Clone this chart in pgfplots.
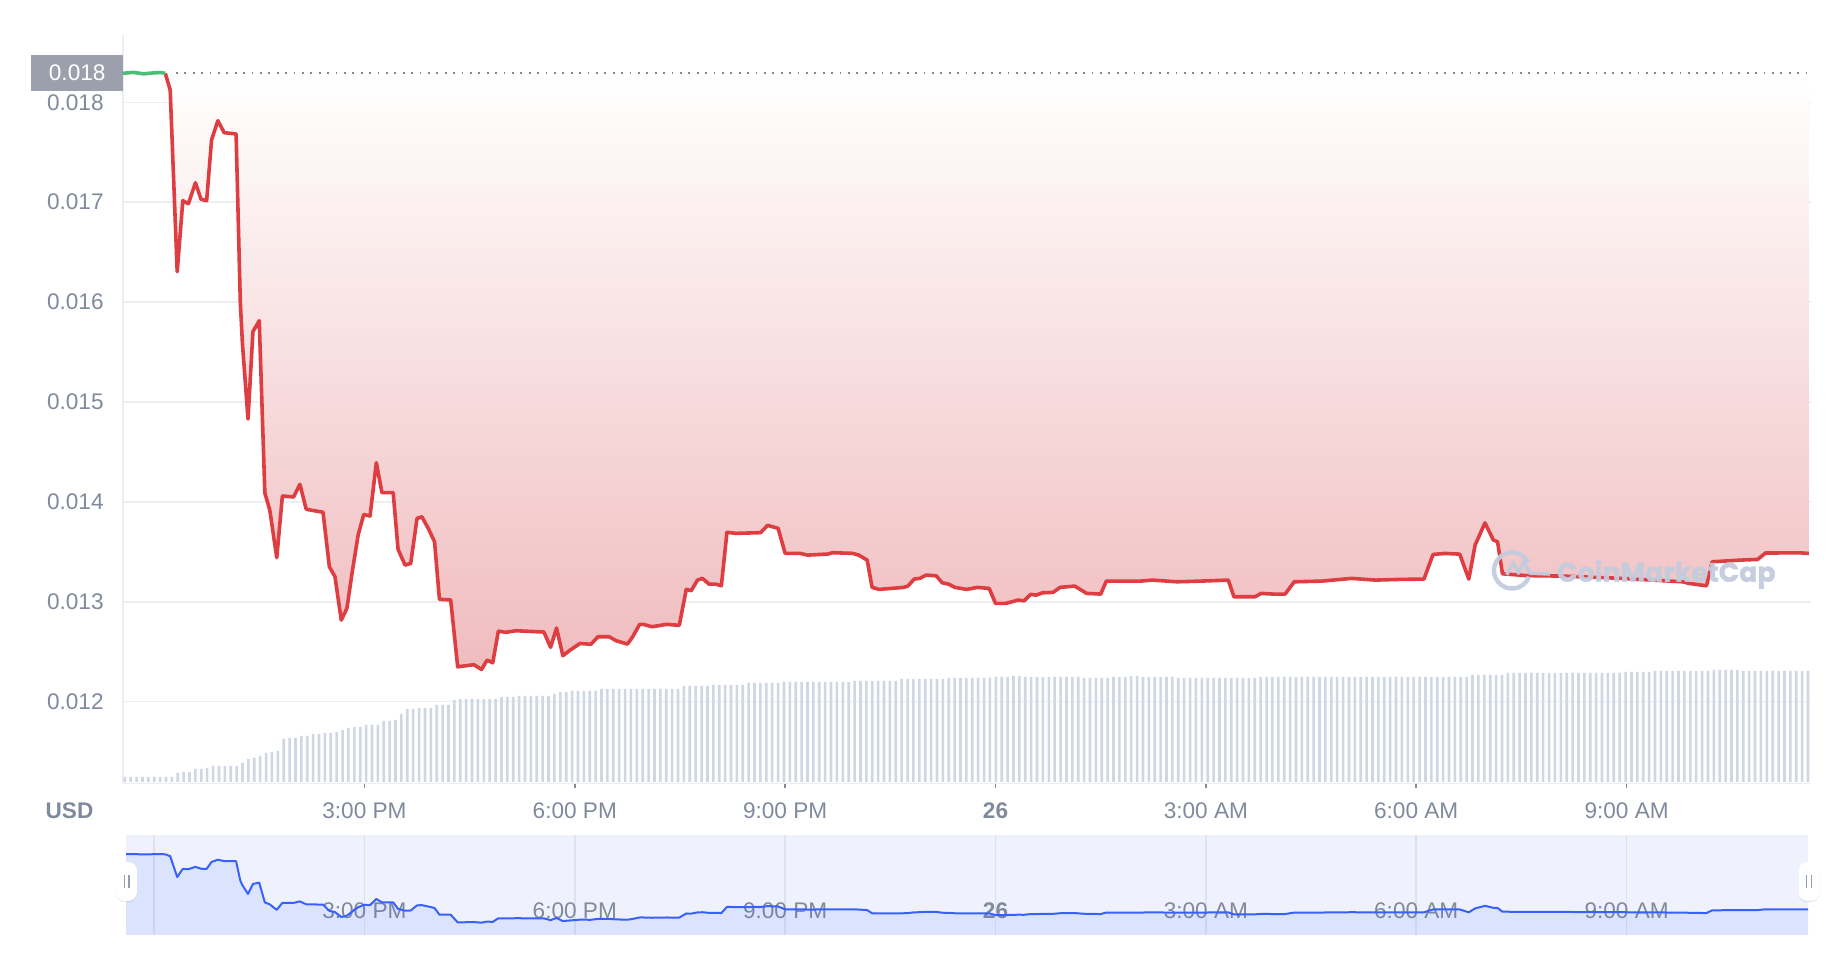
\documentclass[border=0pt]{standalone}
\usepackage{pgfplots}
\pgfplotsset{compat=1.18}
\usepackage{pgfplotstable}
\usetikzlibrary{shadows}
\usepackage{fontspec}
\setmainfont{Liberation Sans}
\newfontfamily\cmcfont{Poppins}[FakeBold=1.5]
\definecolor{pricered}{RGB}{222,62,66}
\definecolor{pricegreen}{RGB}{76,190,120}
\definecolor{gridcol}{RGB}{236,238,243}
\definecolor{labelcol}{RGB}{128,138,157}
\definecolor{volcol}{RGB}{207,214,228}
\definecolor{fillbot}{RGB}{240,188,190}
\definecolor{boxcol}{RGB}{155,160,172}
\definecolor{navbg}{RGB}{239,242,253}
\definecolor{navline}{RGB}{56,97,251}
\definecolor{navgrid}{RGB}{221,226,243}
\definecolor{wmcol}{RGB}{196,204,222}
\definecolor{dotcol}{RGB}{130,134,146}
\definecolor{handlecol}{RGB}{150,156,172}

\pgfplotstableread{
h p
11.557 0.018290
11.70 0.018300
11.85 0.018285
12.00 0.018295
12.10 0.018298
12.16 0.018290
12.23 0.018123
12.33 0.016304
12.41 0.017015
12.49 0.016985
12.59 0.017195
12.67 0.017029
12.75 0.017015
12.82 0.017623
12.91 0.017816
13.00 0.017696
13.17 0.017683
13.23 0.016000
13.26 0.015588
13.34 0.014830
13.41 0.015704
13.50 0.015814
13.58 0.014090
13.65 0.013919
13.75 0.013441
13.83 0.014059
13.99 0.014049
14.08 0.014176
14.17 0.013926
14.41 0.013896
14.50 0.013351
14.58 0.013251
14.67 0.012817
14.75 0.012934
14.83 0.013317
14.91 0.013667
14.99 0.013874
15.08 0.013858
15.17 0.014392
15.25 0.014092
15.41 0.014092
15.48 0.013525
15.58 0.013367
15.66 0.013384
15.75 0.013834
15.82 0.013851
15.91 0.013735
16.00 0.013601
16.07 0.013024
16.23 0.013019
16.33 0.012349
16.56 0.012370
16.67 0.012323
16.75 0.012416
16.83 0.012389
16.91 0.012707
17.015 0.012694
17.16 0.012710
17.56 0.012697
17.655 0.012544
17.74 0.012737
17.83 0.012460
17.935 0.012517
18.075 0.012583
18.23 0.012574
18.33 0.012650
18.49 0.012650
18.59 0.012610
18.75 0.012577
18.82 0.012643
18.925 0.012774
18.98 0.012774
19.10 0.012750
19.31 0.012774
19.49 0.012764
19.59 0.013124
19.66 0.013111
19.75 0.013217
19.82 0.013234
19.915 0.013177
20.01 0.013177
20.09 0.013160
20.17 0.013695
20.30 0.013685
20.65 0.013692
20.75 0.013765
20.90 0.013735
21.00 0.013485
21.21 0.013485
21.32 0.013467
21.61 0.013478
21.67 0.013491
21.96 0.013485
22.05 0.013467
22.17 0.013417
22.24 0.013144
22.34 0.013124
22.69 0.013144
22.75 0.013157
22.84 0.013227
22.92 0.013234
23.01 0.013267
23.155 0.013260
23.24 0.013190
23.33 0.013177
23.42 0.013144
23.59 0.013124
23.74 0.013144
23.91 0.013134
24.00 0.012984
24.15 0.012984
24.32 0.013017
24.41 0.013010
24.50 0.013074
24.58 0.013067
24.67 0.013090
24.82 0.013094
24.92 0.013144
25.13 0.013157
25.30 0.013084
25.50 0.013077
25.58 0.013207
26.07 0.013207
26.24 0.013217
26.59 0.013200
26.93 0.013207
27.32 0.013217
27.40 0.013050
27.70 0.013050
27.79 0.013084
27.96 0.013077
28.13 0.013077
28.26 0.013200
28.65 0.013207
29.08 0.013234
29.42 0.013217
29.765 0.013224
30.11 0.013227
30.24 0.013474
30.41 0.013484
30.62 0.013477
30.75 0.013227
30.84 0.013568
30.98 0.013790
31.10 0.013618
31.16 0.013601
31.23 0.013280
31.57 0.013262
32.08 0.013257
32.94 0.013234
33.80 0.013200
33.89 0.013184
34.14 0.013160
34.22 0.013400
34.62 0.013417
34.87 0.013424
34.98 0.013488
35.47 0.013490
35.60 0.013484
}\price

\pgfplotsset{
  every tick label/.append style={font=\fontsize{11.3}{13}\selectfont, text=labelcol},
  mainbox/.style={at={(61.5pt,86.25pt)}, anchor=south west, scale only axis,
    width=844pt, height=374.25pt},
}

\begin{document}
\begin{tikzpicture}
\useasboundingbox[fill=white] (0,0) rectangle (922pt,478pt);

% ---- price axis: grid, ticks, labels
\begin{axis}[mainbox,
  xmin=11.557, xmax=35.63, ymin=0.011181, ymax=0.018674,
  axis x line*=bottom, axis y line*=left,
  axis line style={draw=gridcol, line width=0.75pt},
  xtick={15,18,21,24,27,30,33},
  xticklabels={3:00 PM,6:00 PM,9:00 PM,\textbf{26},3:00 AM,6:00 AM,9:00 AM},
  ytick={0.012,0.013,0.014,0.015,0.016,0.017,0.018},
  scaled y ticks=false,
  /pgf/number format/assume math mode=true,
  yticklabel style={/pgf/number format/fixed, /pgf/number format/fixed zerofill, /pgf/number format/precision=3},
  ymajorgrids, major grid style={draw=gridcol, line width=0.75pt},
  tick align=outside, major tick length=2.5pt,
  xtick style={draw=labelcol, line width=0.75pt},
  ytick style={draw=none},
  xticklabel style={anchor=base, inner sep=0pt, yshift=-15.25pt},
  yticklabel style={anchor=east, inner sep=0pt, xshift=-7pt},
]
\addplot[draw=none, forget plot] coordinates {(20,0.015)};
\end{axis}

% ---- volume bars
\begin{axis}[mainbox, hide axis,
  xmin=-0.306, xmax=286.51, ymin=-1.5, ymax=747]
\addplot[ybar, bar width=1.3pt, bar shift=0pt, fill=volcol, draw=none] coordinates {
(0,5)(1,5)(2,5)(3,5)(4,5)(5,5)(6,5)(7,5)(8,5)(9,9)(10,10)(11,10)(12,13)(13,13)(14,14)
(15,16)(16,16)(17,16)(18,16)(19,16)(20,19)(21,23)(22,24)(23,26)(24,29)(25,30)(26,31)
(27,43)(28,44)(29,44)(30,46)(31,46)(32,48)(33,48)(34,49)(35,49)(36,50)(37,52)(38,54)
(39,55)(40,55)(41,57)(42,57)(43,57)(44,61)(45,61)(46,62)(47,68)(48,73)(49,73)(50,74)
(51,74)(52,74)(53,77)(54,77)(55,77)(56,82)(57,83)(58,83)(59,83)(60,83)(61,83)(62,83)
(63,83)(64,85)(65,85)(66,85)(67,86)(68,86)(69,86)(70,86)(71,86)(72,86)(73,88)(74,90)
(75,90)(76,91)(77,91)(78,91)(79,91)(80,91)(81,93)(82,93)(83,93)(84,93)(85,93)(86,93)
(87,93)(88,93)(89,93)(90,93)(91,93)(92,93)(93,93)(94,93)(95,96)(96,96)(97,96)(98,96)
(99,96)(100,97)(101,97)(102,97)(103,97)(104,97)(105,97)(106,99)(107,99)(108,99)(109,99)
(110,99)(111,99)(112,100)(113,100)(114,100)(115,100)(116,100)(117,100)(118,100)(119,100)
(120,100)(121,100)(122,100)(123,100)(124,101)(125,101)(126,101)(127,101)(128,101)
(129,101)(130,101)(131,101)(132,103)(133,103)(134,103)(135,103)(136,103)(137,103)
(138,103)(139,103)(140,104)(141,104)(142,104)(143,104)(144,104)(145,104)(146,104)
(147,104)(148,105)(149,105)(150,105)(151,106)(152,106)(153,105)(154,105)(155,105)
(156,105)(157,105)(158,105)(159,105)(160,105)(161,105)(162,105)(163,104)(164,104)
(165,104)(166,104)(167,104)(168,105)(169,105)(170,105)(171,106)(172,106)(173,105)
(174,105)(175,105)(176,105)(177,105)(178,105)(179,104)(180,104)(181,104)(182,104)
(183,104)(184,104)(185,104)(186,104)(187,104)(188,104)(189,104)(190,104)(191,104)
(192,104)(193,105)(194,105)(195,105)(196,105)(197,105)(198,105)(199,105)(200,105)
(201,105)(202,105)(203,105)(204,105)(205,105)(206,105)(207,105)(208,105)(209,105)
(210,105)(211,105)(212,105)(213,105)(214,105)(215,105)(216,105)(217,105)(218,105)
(219,105)(220,105)(221,105)(222,105)(223,105)(224,105)(225,105)(226,105)(227,105)
(228,105)(229,107)(230,107)(231,107)(232,107)(233,107)(234,107)(235,109)(236,109)
(237,109)(238,109)(239,109)(240,109)(241,109)(242,109)(243,109)(244,109)(245,109)
(246,109)(247,109)(248,109)(249,109)(250,109)(251,109)(252,109)(253,109)(254,109)
(255,110)(256,110)(257,110)(258,110)(259,110)(260,111)(261,111)(262,111)(263,111)
(264,111)(265,111)(266,111)(267,111)(268,111)(269,111)(270,112)(271,112)(272,112)
(273,112)(274,112)(275,111)(276,111)(277,111)(278,111)(279,111)(280,111)(281,111)
(282,111)(283,111)(284,111)(285,111)(286,111)
};
\end{axis}

% ---- price line and fill
\begin{axis}[mainbox, hide axis,
  xmin=11.557, xmax=35.63, ymin=0.011181, ymax=0.018674]
\addplot[draw=none, top color=white, bottom color=fillbot] table {\price}
  -- (axis cs:35.60,0.018293) -- (axis cs:11.557,0.018293) -- cycle;
\addplot[pricered, line width=1.8pt, line join=round, restrict x to domain=12.15:36] table {\price};
\addplot[pricegreen, line width=1.8pt, line join=round, restrict x to domain=11:12.17] table {\price};
\end{axis}

% reference price marker
\draw[dotcol, line width=0.9pt, dash pattern=on 0.9pt off 3.3pt] (88pt,441.5pt) -- (905.5pt,441.5pt);
\node[fill=boxcol, text=white, minimum width=45.9pt, minimum height=17.85pt, inner sep=0pt,
  anchor=east, font=\fontsize{11.3}{13}\selectfont] at (61.75pt,441.5pt) {0.018};

\node[font=\fontsize{11.3}{13}\selectfont\bfseries, text=labelcol] at (34.75pt,72.5pt) {USD};

% ---- navigator
\begin{axis}[at={(63pt,10.5pt)}, anchor=south west, scale only axis,
  width=841pt, height=50pt,
  xmin=11.6, xmax=35.587, ymin=0.011247, ymax=0.019974,
  axis line style={draw=none},
  axis background/.style={fill=navbg},
  xtick={12,15,18,21,24,27,30,33},
  xticklabels={,3:00 PM,6:00 PM,9:00 PM,\textbf{26},3:00 AM,6:00 AM,9:00 AM},
  ytick=\empty,
  xmajorgrids, major grid style={draw=navgrid, line width=0.75pt},
  major tick length=0pt,
  xticklabel style={anchor=base, inner sep=0pt, yshift=8pt},
]
\addplot[fill=navline, fill opacity=0.1, draw=none] table {\price} \closedcycle;
\addplot[navline, line width=1pt, line join=round] table {\price};
\end{axis}

% navigator handles
\foreach \hx in {63.25,904.5}{
  \node[fill=white, rounded corners=4.5pt, minimum width=10.5pt, minimum height=19.5pt,
    inner sep=0pt, drop shadow={shadow xshift=0pt, shadow yshift=-0.6pt, opacity=0.18}]
    at (\hx pt,37.25pt) {};
  \draw[handlecol, line width=0.6pt] (\hx pt-1.2pt,34pt) -- (\hx pt-1.2pt,40.5pt);
  \draw[handlecol, line width=0.6pt] (\hx pt+1.2pt,34pt) -- (\hx pt+1.2pt,40.5pt);
}

% watermark
\begin{scope}[opacity=0.95]
\draw[wmcol, line width=2.2pt] (756pt,192.75pt) ++(25:9pt) arc[start angle=25, end angle=340, radius=9pt];
\draw[wmcol, line width=1.8pt, line join=round] (753.3pt,190.6pt) -- (756.7pt,196.8pt) -- (759.2pt,191.4pt)
  -- (761.7pt,197.2pt) -- (765pt,191.4pt) -- (775pt,191pt);
\node[anchor=base west, inner sep=0pt, text=wmcol, font=\cmcfont\bfseries\fontsize{13.4}{16}\selectfont]
  at (778.35pt,187.15pt) {CoinMarketCap};
\end{scope}
\end{tikzpicture}
\end{document}
